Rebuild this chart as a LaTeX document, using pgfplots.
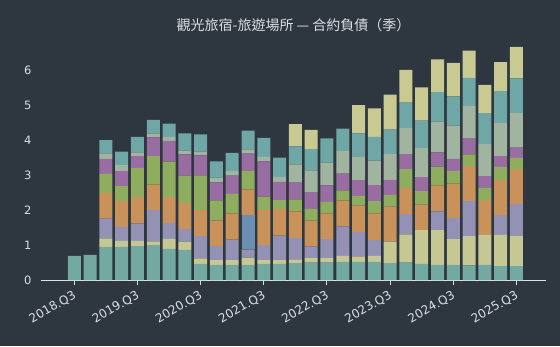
\documentclass[border=0pt]{standalone}
\usepackage{pgfplots}
\pgfplotsset{compat=1.18}
\usepackage{pgfplotstable}
\usepackage{fontspec}
\setmainfont{DejaVu Sans}
\newfontfamily\cjk{Noto Sans CJK TC}
\definecolor{bg}{HTML}{2E3640}
\definecolor{txt}{HTML}{DCDFE3}
\definecolor{cA}{HTML}{72A9A1}
\definecolor{cB}{HTML}{C6C893}
\definecolor{cC}{HTML}{9392B4}
\definecolor{cD}{HTML}{6B8FB2}
\definecolor{cE}{HTML}{C9925B}
\definecolor{cF}{HTML}{8FAD5E}
\definecolor{cG}{HTML}{9A6DA2}
\definecolor{cH}{HTML}{A0B49F}
\definecolor{cI}{HTML}{6FA6A6}
\definecolor{cJ}{HTML}{C8CA92}
\pgfplotstableread{
x  a    b    c    d    e    f    g    h    i    j
0  0.69 0    0    0    0    0    0    0    0    0
1  0.72 0    0    0    0    0    0    0    0    0
2  0.95 0.24 0.57 0    0.73 0.55 0.43 0.16 0.38 0
3  0.95 0.17 0.40 0    0.74 0.43 0.43 0.17 0.39 0
4  0.97 0.15 0.50 0    0.76 0.83 0.34 0.11 0.44 0
5  1.00 0.11 0.89 0    0.74 0.81 0.54 0.11 0.39 0
6  0.89 0.29 0.46 0    0.74 1.01 0.60 0.11 0.38 0
7  0.86 0.24 0.36 0    0.74 0.79 0.61 0.11 0.49 0
8  0.46 0.16 0.64 0    0.74 1.00 0.57 0.11 0.49 0
9  0.43 0.14 0.40 0    0.74 0.57 0.52 0.13 0.47 0
10 0.43 0.14 0.59 0    0.74 0.57 0.52 0.14 0.51 0
11 0.43 0.21 0.24 0.98 0.74 0.52 0.50 0.12 0.54 0
12 0.46 0.11 0.43 0    1.00 0.39 1.01 0.13 0.54 0
13 0.46 0.11 0.70 0    0.76 0.26 0.52 0.14 0.56 0
14 0.48 0.11 0.62 0    0.76 0.34 0.48 0.52 0.52 0.64
15 0.50 0.13 0.33 0    0.74 0.34 0.48 0.62 0.61 0.55
16 0.50 0.13 0.54 0    0.74 0.33 0.47 0.65 0.70 0
17 0.52 0.17 0.85 0    0.74 0.29 0.48 0.64 0.65 0
18 0.52 0.16 0.70 0    0.76 0.27 0.45 0.67 0.67 0.81
19 0.52 0.17 0.46 0    0.75 0.36 0.46 0.70 0.68 0.82
20 0.48 0.62 0    0    1.00 0.34 0.43 0.74 0.70 1.00
21 0.50 0.81 0.58 0    0.75 0.54 0.43 0.75 0.72 0.94
22 0.46 0.97 0    0    0.74 0.38 0.40 0.83 0.79 0.95
23 0.43 1.00 0.54 0    0.74 0.54 0.41 0.88 0.84 0.94
24 0.43 0.74 0.61 0    0.99 0.36 0.34 0.95 0.84 0.96
25 0.42 0.84 1.00 0    1.00 0.34 0.45 0.93 0.81 0.78
26 0.43 0.86 0    0    1.00 0.35 0.34 0.92 0.88 0.81
27 0.40 0.89 0.57 0    1.00 0.38 0.31 0.95 0.91 0.83
28 0.40 0.86 0.92 0    1.00 0.32 0.29 1.00 0.99 0.90
}\data
\begin{document}
\begin{tikzpicture}[x=1pt,y=1pt]
\fill[bg] (0,0) rectangle (560,346);
\useasboundingbox (0,0) rectangle (560,346);
\begin{axis}[
  at={(74.3pt,66pt)}, anchor=origin,
  scale only axis, width=505pt, height=240.8pt,
  xmin=-2.11, xmax=29.87, ymin=0, ymax=6.9,
  ybar stacked, bar width=13pt,
  axis x line=bottom, axis y line=left,
  x axis line style={-, draw=txt, line width=1pt},
  y axis line style={draw=none},
  xtick={0,4,...,28},
  xticklabels={2018.Q3,2019.Q3,2020.Q3,2021.Q3,2022.Q3,2023.Q3,2024.Q3,2025.Q3},
  ytick={0,1,...,6},
  tick align=outside,
  major tick length=5pt,
  xtick style={draw=txt, line width=1pt},
  ytick style={draw=none},
  /pgf/number format/assume math mode=true,
  tick label style={font=\fontsize{11.5}{13}\selectfont, text=txt},
  xticklabel style={font=\fontsize{12}{14}\selectfont, rotate=30, anchor=north east, inner sep=1pt, xshift=-3pt, yshift=-2pt},
  yticklabel style={xshift=-1pt},
  title={\cjk 觀光旅宿-旅遊場所 — 合約負債（季）},
  title style={font=\cjk\fontsize{14}{16}\selectfont, text=txt, anchor=center, at={(0.5,1)}, yshift=8pt},
  clip=false,
]
\addplot[fill=cA, draw=none] table[x=x,y=a]{\data};
\addplot[fill=cB, draw=none] table[x=x,y=b]{\data};
\addplot[fill=cC, draw=none] table[x=x,y=c]{\data};
\addplot[fill=cD, draw=none] table[x=x,y=d]{\data};
\addplot[fill=cE, draw=none] table[x=x,y=e]{\data};
\addplot[fill=cF, draw=none] table[x=x,y=f]{\data};
\addplot[fill=cG, draw=none] table[x=x,y=g]{\data};
\addplot[fill=cH, draw=none] table[x=x,y=h]{\data};
\addplot[fill=cI, draw=none] table[x=x,y=i]{\data};
\addplot[fill=cJ, draw=none] table[x=x,y=j]{\data};
\end{axis}
\end{tikzpicture}
\end{document}
